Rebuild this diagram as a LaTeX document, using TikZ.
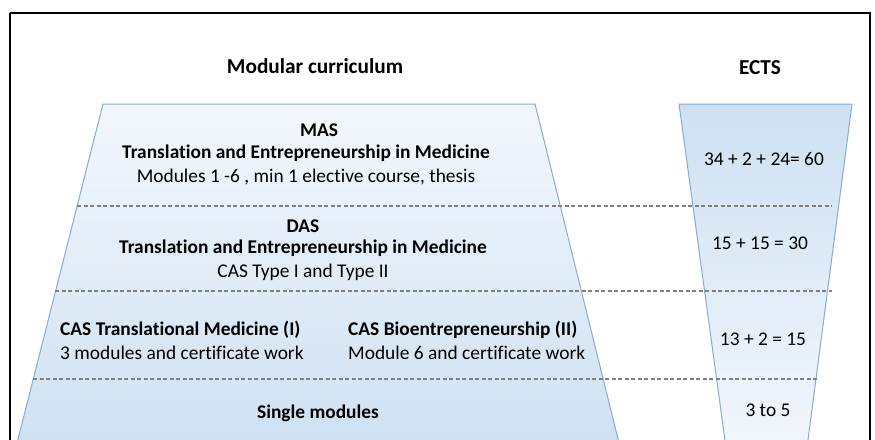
\documentclass[tikz,border=0pt]{standalone}
\usepackage{fontspec}
\setmainfont{Carlito}[Ligatures=NoCommon]
\begin{document}
\begin{tikzpicture}[x=1pt,y=-1pt]
\definecolor{lightfill}{HTML}{F3F7FC}
\definecolor{darkfill}{HTML}{CDE0F2}
\definecolor{edgeblue}{HTML}{8AABCF}
\definecolor{dashgray}{HTML}{7F7F7F}
\tikzset{
  trap/.style={draw=edgeblue, line width=1pt},
  sep/.style={draw=dashgray, line width=1.3pt, dash pattern=on 4pt off 2.5pt},
  txt/.style={font=\fontsize{19.4}{23}\selectfont, inner sep=0pt, anchor=center},
  bold/.style={txt, font=\fontsize{19.4}{23}\selectfont\bfseries},
  head/.style={txt, font=\fontsize{21.3}{25}\selectfont\bfseries},
}
\useasboundingbox (0,0) rectangle (875,439);
\clip (0,0) rectangle (875,439);
% frame
\draw[line width=1.6pt] (10,13) -- (10,460) (10,13) -- (870,13) -- (870,460);
% left trapezoid
\shade[top color=lightfill, bottom color=darkfill] (103,104) -- (535,104) -- (622,455) -- (14,455) -- cycle;
\draw[trap] (14,455) -- (103,104) -- (535,104) -- (622,455);
% right trapezoid
\shade[top color=darkfill, bottom color=lightfill] (679,104) -- (852,104) -- (806,455) -- (727,455) -- cycle;
\draw[trap] (727,455) -- (679,104) -- (852,104) -- (806,455);
% dashed separators
\coordinate (d1a) at (77,206); \coordinate (d1b) at (832,206);
\coordinate (d2a) at (55,291); \coordinate (d2b) at (832,291);
\coordinate (d3a) at (33,379); \coordinate (d3b) at (817,379);
\draw[sep] (d1a) -- (d1b);
\draw[sep] (d2a) -- (d2b);
\draw[sep] (d3a) -- (d3b);
% headings
\node[head] (h1) at (315,66) {Modular curriculum};
\node[head] (h2) at (760,68) {ECTS};
% MAS
\node[bold] (mas) at (319,130) {MAS};
\node[bold] (mas2) at (306,153) {Translation and Entrepreneurship in Medicine};
\node[txt] (mas3) at (306,177) {Modules 1 -6 , min 1 elective course, thesis};
\node[txt] (e1) at (764,159) {34 + 2 + 24= 60};
% DAS
\node[bold] (das) at (303,226) {DAS};
\node[bold] (das2) at (303,248) {Translation and Entrepreneurship in Medicine};
\node[txt] (das3) at (303,272) {CAS Type I and Type II};
\node[txt] (e2) at (760,243) {15 + 15 = 30};
% CAS
\node[bold, anchor=west] (c1) at (60,330) {CAS Translational Medicine (I)};
\node[txt, anchor=west] (c1b) at (60,353) {3 modules and certificate work};
\node[bold, anchor=west] (c2) at (348,330) {CAS Bioentrepreneurship (II)};
\node[txt, anchor=west] (c2b) at (348,353) {Module 6 and certificate work};
\node[txt] (e3) at (763,339) {13 + 2 = 15};
% single
\node[bold] (s) at (318,413) {Single modules};
\node[txt] (e4) at (768,410) {3 to 5};
\end{tikzpicture}
\end{document}
